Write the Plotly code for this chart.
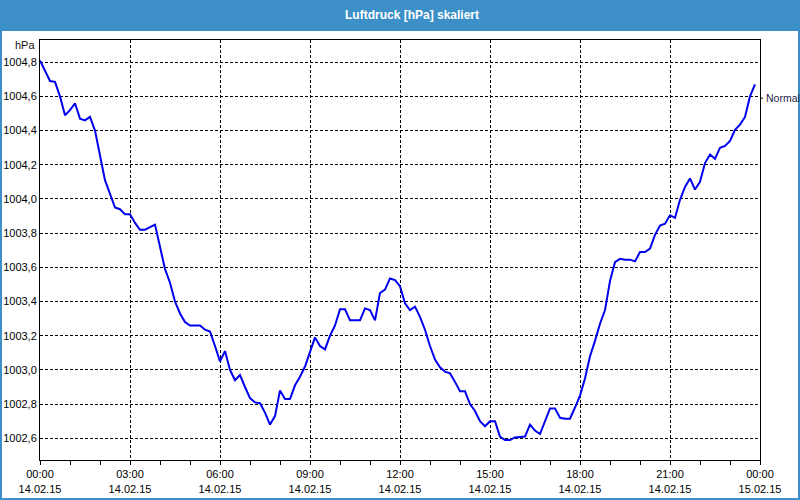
import plotly.graph_objects as go
import pandas as pd

# Luftdruck (hPa), 10-minute samples from 14.02.15 00:00 to 23:50
pressure = [
    1004.81, 1004.75, 1004.69, 1004.685, 1004.60, 1004.49, 1004.52, 1004.56, 1004.47, 1004.46,
    1004.48, 1004.40, 1004.26, 1004.11, 1004.03, 1003.95, 1003.94, 1003.91, 1003.91, 1003.86,
    1003.82, 1003.82, 1003.835, 1003.85, 1003.72, 1003.59, 1003.51, 1003.40, 1003.33, 1003.28,
    1003.26, 1003.26, 1003.26, 1003.235, 1003.225, 1003.14, 1003.05, 1003.11, 1003.00, 1002.94,
    1002.97, 1002.90, 1002.835, 1002.81, 1002.805, 1002.75, 1002.68, 1002.73, 1002.88, 1002.83,
    1002.83, 1002.91, 1002.96, 1003.02, 1003.11, 1003.19, 1003.14, 1003.12, 1003.20, 1003.26,
    1003.355, 1003.355, 1003.29, 1003.29, 1003.29, 1003.36, 1003.35, 1003.29, 1003.45, 1003.47,
    1003.535, 1003.525, 1003.49, 1003.39, 1003.35, 1003.37, 1003.31, 1003.235, 1003.14, 1003.06,
    1003.015, 1002.99, 1002.98, 1002.93, 1002.875, 1002.875, 1002.80, 1002.76, 1002.70, 1002.67,
    1002.70, 1002.70, 1002.61, 1002.59, 1002.59, 1002.605, 1002.607, 1002.61, 1002.68, 1002.645,
    1002.625, 1002.70, 1002.775, 1002.775, 1002.72, 1002.715, 1002.715, 1002.78, 1002.85, 1002.95,
    1003.08, 1003.17, 1003.27, 1003.35, 1003.52, 1003.63, 1003.65, 1003.645, 1003.645, 1003.635,
    1003.69, 1003.69, 1003.71, 1003.79, 1003.845, 1003.855, 1003.905, 1003.89, 1003.995, 1004.07,
    1004.12, 1004.055, 1004.10, 1004.21, 1004.26, 1004.235, 1004.30, 1004.31, 1004.34, 1004.405,
    1004.435, 1004.48, 1004.60, 1004.67,
]
times = pd.date_range("2015-02-14 00:00", periods=len(pressure), freq="10min")

title_text = "Luftdruck [hPa] skaliert"
unit_label = "hPa"
ref_label = "Normal"
ref_value = 1004.59
y_range = [1002.473, 1004.93]
x_range = ["2015-02-14 00:00", "2015-02-15 00:00"]

FONT = "Liberation Sans"
BLUE = "#3d8fc7"

W, H = 800, 500
L, R, T, B = 40, 40, 40, 40
pw, ph = W - L - R, H - T - B

def px_x(x):
    return (x - L) / pw

def px_y(y):
    return (H - B - y) / ph

fig = go.Figure()
fig.add_trace(go.Scatter(
    x=times, y=pressure, mode="lines",
    line=dict(color="#0000ee", width=2), hoverinfo="x+y", showlegend=False,
))

shapes = [
    # title bar
    dict(type="rect", xref="paper", yref="paper", x0=px_x(0), x1=px_x(W), y0=px_y(31), y1=px_y(0),
         fillcolor=BLUE, line=dict(width=0), layer="above"),
    # window frame
    dict(type="rect", xref="paper", yref="paper", x0=px_x(1), x1=px_x(W - 1), y0=px_y(H - 1), y1=px_y(1),
         fillcolor="rgba(0,0,0,0)", line=dict(color=BLUE, width=2), layer="above"),
    # tick for Normal
    dict(type="line", xref="paper", yref="y", x0=1, x1=px_x(L + pw + 3), y0=ref_value, y1=ref_value,
         line=dict(color="black", width=1)),
]

annotations = [
    dict(text="<b>" + title_text + "</b>", xref="paper", yref="paper", x=px_x(412), y=px_y(15.5),
         xanchor="center", yanchor="middle", showarrow=False, font=dict(family=FONT, size=12, color="white")),
    dict(text=unit_label, xref="paper", yref="paper", x=px_x(37), y=px_y(45),
         xanchor="right", yanchor="middle", showarrow=False, font=dict(family=FONT, size=11, color="#111")),
    dict(text=ref_label, xref="paper", yref="y", x=px_x(L + pw + 4), y=ref_value,
         xanchor="left", yanchor="middle", showarrow=False, font=dict(family=FONT, size=10.5, color="#222244")),
]

fig.update_layout(
    width=W, height=H,
    margin=dict(l=L, r=R, t=T, b=B, pad=0, autoexpand=False),
    paper_bgcolor="white", plot_bgcolor="white",
    separators=",.",
    font=dict(family=FONT, size=11, color="black"),
    shapes=shapes, annotations=annotations,
    showlegend=False,
)
fig.update_xaxes(
    type="date", range=x_range, automargin=False,
    tick0="2015-02-14 00:00", dtick=3 * 3600 * 1000,
    tickformat="%H:%M<br>%d.%m.%y",
    ticks="outside", ticklen=4, tickcolor="black",
    showline=True, linecolor="black", linewidth=1, mirror=True,
    showgrid=True, gridcolor="black", gridwidth=1, griddash="3px,2px",
    minor=dict(dtick=3600 * 1000, ticks="outside", ticklen=4, tickcolor="black", showgrid=False),
    zeroline=False,
)
fig.update_yaxes(
    range=y_range, automargin=False,
    tick0=1002.6, dtick=0.2, tickformat=".1f",
    ticks="", showline=True, linecolor="black", linewidth=1, mirror=True,
    showgrid=True, gridcolor="black", gridwidth=1, griddash="3px,2px",
    zeroline=False,
)

fig.write_html("out.html")
